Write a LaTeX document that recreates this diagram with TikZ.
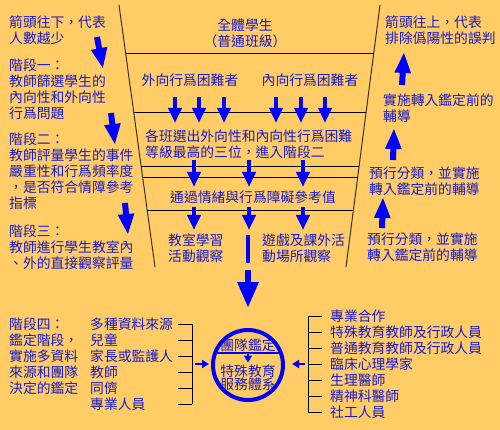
\documentclass[tikz,border=0pt]{standalone}
\usepackage{fontspec}
\newfontfamily\cjk{Noto Sans CJK TC}
\usetikzlibrary{
  arrows.meta,
  calc,
  positioning
}
\definecolor{bgorange}{RGB}{255,204,102}
\definecolor{txtblue}{RGB}{26,26,204}
\definecolor{arrblue}{RGB}{0,0,255}

\begin{document}
\begin{tikzpicture}[
  x=1pt, y=-1pt,
  txt/.style={inner sep=0pt, align=left, anchor=west, text=txtblue,
              font=\cjk\fontsize{13.8}{16}\selectfont},
  ctxt/.style={txt, anchor=center, align=center},
  blk/.style={draw=arrblue, line width=4.5pt, -{Triangle[width=13pt,length=15pt]}},
  fat/.style={draw=arrblue, line width=6pt, -{Triangle[width=15pt,length=21pt]}},
  huge/.style={draw=arrblue, line width=6pt, -{Triangle[width=20pt,length=26pt]}},
  small/.style={draw=arrblue, line width=2pt, -{Triangle[width=8pt,length=7pt]}},
  rule/.style={draw=black, line width=1pt}
]
\fill[bgorange] (0,0) rectangle (500,430);

% funnel
\coordinate (ftl) at (119,5);
\coordinate (fbl) at (155,267);
\coordinate (ftr) at (380,5);
\coordinate (fbr) at (346,267);
\draw[rule, draw=black!80!olive] (ftl) -- (fbl);
\draw[rule, draw=black!80!olive] (ftr) -- (fbr);
\foreach \y in {54,113,167,178,211}
  \draw[rule] ($(ftl)!{(\y-5)/262}!(fbl)$) -- ($(ftr)!{(\y-5)/262}!(fbr)$);

% left column
\node[txt] (downnote) at (9,30) {箭頭往下，代表\\人數越少};
\node[txt] (stage1) at (9,89) {階段一：\\教師篩選學生的\\內向性和外向性\\行爲問題};
\node[txt] (stage2) at (9,171) {階段二：\\教師評量學生的事件\\嚴重性和行爲頻率度\\，是否符合情障參考\\指標};
\node[txt] (stage3) at (9,247) {階段三：\\教師進行學生教室內\\、外的直接觀察評量};
\node[txt] (stage4) at (9,356) {階段四：\\鑑定階段，\\實施多資料\\來源和團隊\\決定的鑑定};
\node[txt] (srclist) at (90,364) {多種資料來源\\兒童\\家長或監護人\\教師\\同儕\\專業人員};

% right column
\node[txt] (upnote) at (385,30) {箭頭往上，代表\\排除僞陽性的誤判};
\node[txt] (guide1) at (383,108.5) {實施轉入鑑定前的\\輔導};
\node[txt] (guide2) at (369,181) {預行分類，並實施\\轉入鑑定前的輔導};
\node[txt] (guide3) at (367,247) {預行分類，並實施\\轉入鑑定前的輔導};
\node[txt] (teamlist) at (330,364.5) {專業合作\\特殊教育教師及行政人員\\普通教育教師及行政人員\\臨床心理學家\\生理醫師\\精神科醫師\\社工人員};

% funnel texts
\node[ctxt] (allstu) at (245,33) {全體學生\\（普通班級）};
\node[ctxt] (extern) at (190,80) {外向行爲困難者};
\node[ctxt] (intern) at (310,80) {內向行爲困難者};
\node[txt] (select) at (145,144) {各班選出外向性和內向性行爲困難\\等級最高的三位，進入階段二};
\node[ctxt] (cutoff) at (253,197) {通過情緒與行爲障礙參考值};
\node[txt] (classobs) at (168,248.5) {教室學習\\活動觀察};
\node[txt] (playobs) at (262,248.5) {遊戲及課外活\\動場所觀察};

% funnel arrows
\foreach \x [count=\i] in {175,199,224,276,301,325} {
  \coordinate (sa\i) at (\x,97);
  \coordinate (sb\i) at (\x,123);
  \draw[blk] (sa\i) -- (sb\i);
}
\foreach \x [count=\i] in {194,249,303} {
  \coordinate (ta\i) at (\x,160);
  \coordinate (tb\i) at (\x,187);
  \coordinate (ua\i) at (\x,207);
  \coordinate (ub\i) at (\x,230);
  \draw[blk] (ta\i) -- (tb\i);
  \draw[blk] (ua\i) -- (ub\i);
}

% side arrows
\coordinate (da1) at (97,37);   \coordinate (db1) at (103,69);
\coordinate (da2) at (111,113); \coordinate (db2) at (115,145);
\coordinate (da3) at (125,203); \coordinate (db3) at (128,235);
\coordinate (ua1) at (402,85);  \coordinate (ub1) at (404,52);
\coordinate (ua2) at (393,160); \coordinate (ub2) at (394,128);
\coordinate (ua3) at (382,228); \coordinate (ub3) at (383,197);
\foreach \i in {1,2,3} {
  \draw[fat] (da\i) -- (db\i);
  \draw[fat] (ua\i) -- (ub\i);
}

% circle
\node[circle, draw=arrblue, line width=4pt, minimum size=70pt, inner sep=0pt,
      outer sep=0pt] (team) at (248,365) {};
\node[ctxt] (teamtitle) at (248,345) {團隊鑑定};
\node[ctxt, font=\cjk\fontsize{13.8}{13.5}\selectfont] (service) at (248,377.5) {特殊教育\\服務體系};
\draw[draw=arrblue, line width=2pt] (team.160) -- (team.20);
\coordinate (chordmid) at ($(team.160)!0.5!(team.20)$);
\coordinate (chordtip) at ($(team.center)+(0,-2.5)$);
\draw[small] (chordmid) -- (chordtip);

% main arrow down
\coordinate (mida) at (248,235);
\coordinate (midb) at (248,263);
\coordinate (midc) at (248,270);
\coordinate (midd) at (248,308);
\draw[draw=arrblue, line width=3.5pt] (mida) -- (midb);
\draw[huge] (midc) -- (midd);

% brackets
\foreach \y in {324,340,356,372,388,404}
  \draw[rule] (178,\y) -- (192,\y);
\draw[rule] (192,324) -- (192,404);
\coordinate (lba) at (195,364);
\coordinate (lbb) at (209,364);
\draw[small] (lba) -- (lbb);

\foreach \y in {316.5,332.5,348.5,364.5,380.5,396.5,412.5}
  \draw[rule] (322,\y) -- (308,\y);
\draw[rule] (308,316.5) -- (308,412.5);
\coordinate (rba) at (305,364);
\coordinate (rbb) at (292,364);
\draw[small] (rba) -- (rbb);

\end{tikzpicture}
\end{document}
